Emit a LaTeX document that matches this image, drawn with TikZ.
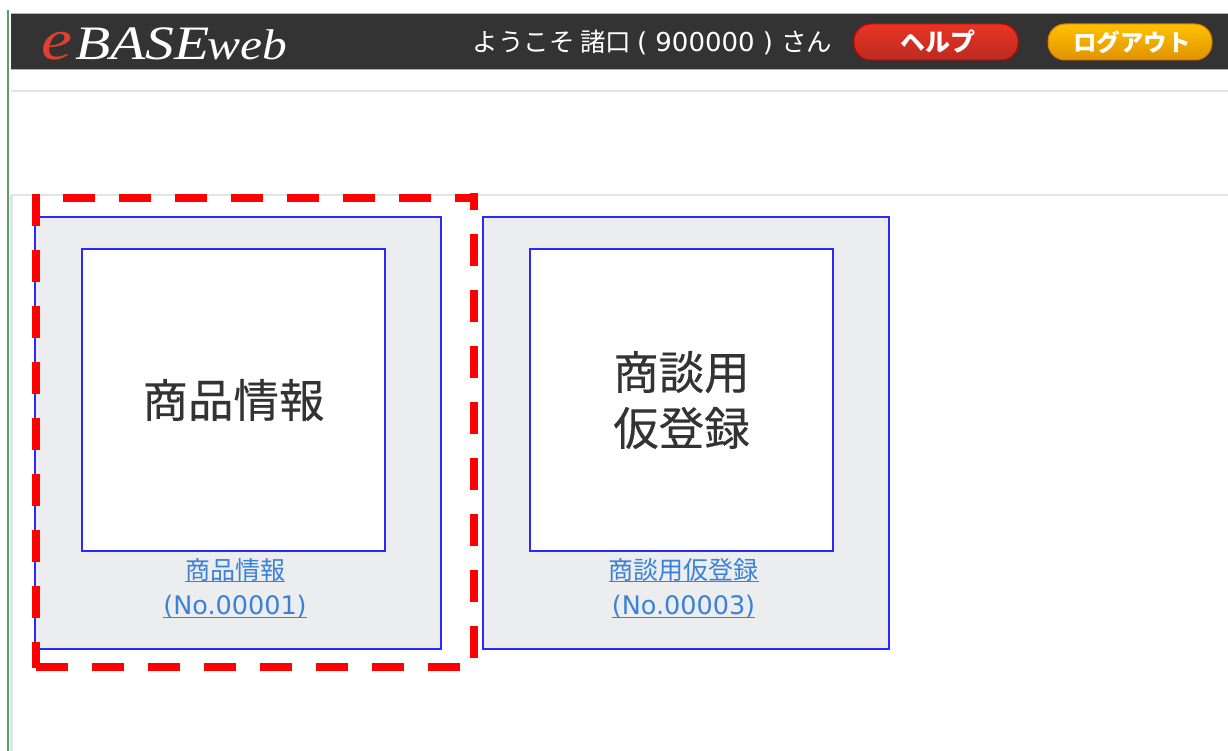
\documentclass[tikz,border=0pt]{standalone}
\usepackage{fontspec}
\setmainfont{Noto Sans CJK JP}
\newfontfamily\logofont{Liberation Serif}
\newfontfamily\latinf{DejaVu Sans}
\newfontfamily\heavycjk[FakeBold=0.35]{Noto Sans CJK JP}
\definecolor{hdr}{HTML}{333333}
\definecolor{pale}{HTML}{DDE6E6}
\definecolor{panel}{HTML}{ECEDEF}
\definecolor{bluebox}{HTML}{2A2AFF}
\definecolor{linkc}{HTML}{3B82D6}
\definecolor{sidegreen}{HTML}{5C9E68}
\definecolor{logored}{HTML}{E0402F}
\definecolor{helptop}{HTML}{E83424}
\definecolor{helpbot}{HTML}{BC2A20}
\definecolor{logtop}{HTML}{FFC200}
\definecolor{logbot}{HTML}{DF9200}
\newsavebox{\ulbox}
\newcommand{\ulink}[2]{\sbox{\ulbox}{#2}\rlap{\usebox{\ulbox}}\rule[#1]{\wd\ulbox}{1.5pt}}
\tikzset{
  x=1pt,y=-1pt,
  panelbox/.style={draw=bluebox,line width=2pt,fill=panel,minimum width=406pt,minimum height=432pt,inner sep=0pt,outer sep=0pt},
  tilebox/.style={draw=bluebox,line width=2pt,fill=white,minimum width=303pt,minimum height=302pt,inner sep=0pt,outer sep=0pt,font=\heavycjk\fontsize{45.5}{56}\selectfont,text=hdr,align=center},
  linktext/.style={text=linkc,inner sep=0pt,anchor=base},
  rule/.style={draw=pale,line width=2pt},
  reddash/.style={draw=red,line width=8pt,dash pattern=on 32pt off 24pt},
  pill/.style={rounded corners=17pt,minimum width=164pt,minimum height=36pt,inner sep=0pt,text=white,font=\bfseries},
}
\begin{document}
\begin{tikzpicture}
\useasboundingbox (0,0) rectangle (1228,751);
\fill[white] (0,0) rectangle (1228,751);
% page frame
\draw[sidegreen,line width=2.2pt] (8,10) -- (8,751);
\draw[pale,line width=3pt] (11.5,195) -- (11.5,751);
\draw[rule] (11,91) -- (1228,91);
\draw[rule] (11,195) -- (1228,195);
% header
\fill[hdr] (11,13) rectangle (1228,70);
\draw[black!30,line width=1.2pt] (11,13.5) -- (1228,13.5);
\draw[black!30,line width=1pt] (11,70) -- (1228,70);
\node[anchor=base west,inner sep=0pt,text=logored,font=\logofont\itshape\fontsize{58}{58}\selectfont] (logoe) at (41,60) {\scalebox{1.2}[1]{e}};
\node[anchor=base west,inner sep=0pt,text=white,font=\logofont\itshape\fontsize{48}{48}\selectfont] (logob) at (75,60) {\scalebox{1.2}[1]{BASE}};
\node[anchor=base west,inner sep=0pt,text=white,font=\logofont\itshape\fontsize{43}{43}\selectfont] (logow) at (207,60) {\scalebox{1.15}[1]{web}};
\node[anchor=base,inner sep=0pt,text=white,font=\fontsize{25.5}{28}\selectfont] (welcome) at (652.5,51.5) {ようこそ 諸口 {\latinf\fontsize{26}{28}\selectfont ( 900000 ) }さん};
\node[pill,top color=helptop,bottom color=helpbot,draw=red!85!black,line width=1pt] (help) at (936,42) {\hspace{4pt}\fontsize{25}{28}\selectfont ヘルプ};
\node[pill,top color=logtop,bottom color=logbot,draw=orange!90!black,line width=1pt] (logout) at (1130,42) {\hspace{4pt}\fontsize{23.5}{28}\selectfont ログアウト};
% panels
\node[panelbox,anchor=north west] (p1) at (35,217) {};
\node[panelbox,anchor=north west,minimum width=406.5pt] (p2) at (482.5,217) {};
\node[tilebox,anchor=north west] (t1) at (82,249) {\raisebox{-2pt}{商品情報}};
\node[tilebox,anchor=north west] (t2) at (530,249) {\raisebox{-2pt}{商談用}\\\raisebox{-2pt}{仮登録}};
\node[linktext,font=\fontsize{25}{28}\selectfont] (l1) at (235,579) {\ulink{-3pt}{商品情報}};
\node[linktext,font=\latinf\fontsize{25.5}{28}\selectfont] (n1) at (235,614) {\ulink{-4pt}{(No.00001)}};
\node[linktext,font=\fontsize{25}{28}\selectfont] (l2) at (683.5,579) {\ulink{-3pt}{商談用仮登録}};
\node[linktext,font=\latinf\fontsize{25.5}{28}\selectfont] (n2) at (683.5,614) {\ulink{-4pt}{(No.00003)}};
% red dashed frame
\coordinate (ctl) at (36,194);
\coordinate (cbl) at (36,668);
\coordinate (cbr) at (460,667);
\coordinate (topstart) at (63,198);
\coordinate (topend) at (478,198);
\coordinate (botstart) at (36,667);
\coordinate (rstart) at (474,178);
\coordinate (rend) at (474,660);
\draw[reddash] (ctl) -- (cbl);
\draw[reddash] (topstart) -- (topend);
\draw[reddash] (botstart) -- (cbr);
\begin{scope}
\clip (460,194) rectangle (485,680);
\draw[reddash] (rstart) -- (rend);
\end{scope}
\end{tikzpicture}
\end{document}
